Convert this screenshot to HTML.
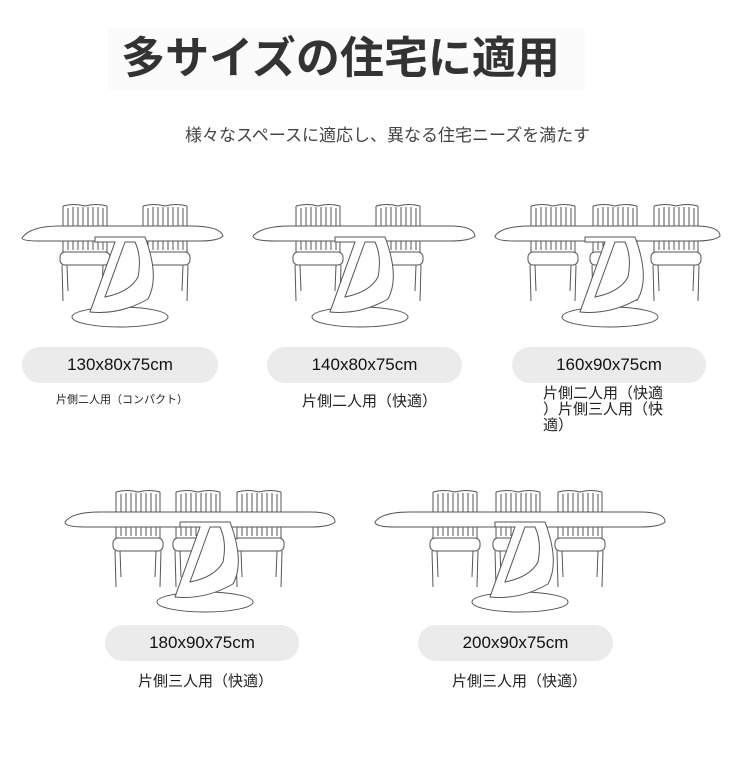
<!DOCTYPE html>
<html><head><meta charset="utf-8"><style>
body{margin:0;width:750px;height:767px;background:#fff;position:relative;font-family:"Liberation Sans","Noto Sans CJK JP",sans-serif;overflow:hidden}
.t{position:absolute;color:#222}
.pill{position:absolute;height:36px;border-radius:18px;background:#ebebeb;font-size:17px;color:#111;text-align:center;line-height:36px}
svg{position:absolute;left:0;top:0}
</style></head><body>
<div class="t" style="left:108px;top:28px;width:477px;height:62px;font-size:44px;font-weight:bold;color:#333;line-height:62px;text-align:center;background:#fbfbfb;box-sizing:border-box;padding-right:12px">多サイズの住宅に適用</div>
<div class="t" style="left:185px;top:121px;font-size:17px;color:#444;white-space:nowrap">様々なスペースに適応し、異なる住宅ニーズを満たす</div>
<svg width="750" height="767" fill="none" stroke="#555" stroke-width="1">
<defs>
<g id="ch">
<path d="M-22,0 L-22,46 M22,0 L22,46 M-22,0 Q-11,-3 0,0 Q11,-3 22,0"/>
<path d="M-17,2V44 M-12,1V44 M-7,1V44 M-2,1V44 M3,1V44 M8,1V44 M13,1V44 M18,2V44"/>
<rect x="-25" y="46" width="50" height="13" rx="5"/>
<path d="M-23,59 L-22,95 M23,59 L22,95 M-18,59 L-17,85 M18,59 L17,85"/>
</g>
<g id="base">
<ellipse cx="0" cy="80" rx="48" ry="10" fill="#fff"/>
<path d="M-25,0 L-25,5 L-5,5 L-30,75 Q0,78 28,62 Q40,40 25,0 Z" fill="#fff"/>
<path d="M5,5 L-15,60 Q10,55 18,40 Q22,20 15,5 Z" fill="#fff"/>
</g>
</defs>
<use href="#ch" x="85" y="206"/><use href="#ch" x="165" y="206"/>
<path d="M22,238 Q30,226 60,226 L190,226 Q220,226 223,236 Q218,241 200,241 L40,241 Q22,241 22,238Z" fill="#fff"/>
<use href="#base" x="120" y="237"/>
<use href="#ch" x="318" y="206"/><use href="#ch" x="398" y="206"/>
<path d="M253,236 Q262,226 290,226 L450,226 Q474,226 475,236 Q470,241 450,241 L275,241 Q253,241 253,236Z" fill="#fff"/>
<use href="#base" x="360" y="237"/>
<use href="#ch" x="553" y="206"/><use href="#ch" x="615" y="206"/><use href="#ch" x="676" y="206"/>
<path d="M495,236 Q502,226 530,226 L695,226 Q720,226 720,236 Q715,241 695,241 L515,241 Q495,241 495,236Z" fill="#fff"/>
<use href="#base" x="610" y="237"/>
<use href="#ch" x="138" y="492"/><use href="#ch" x="198" y="492"/><use href="#ch" x="259" y="492"/>
<path d="M65,522 Q72,512 100,512 L310,512 Q335,512 335,522 Q330,527 310,527 L85,527 Q65,527 65,522Z" fill="#fff"/>
<use href="#base" x="205" y="522"/>
<use href="#ch" x="455" y="492"/><use href="#ch" x="518" y="492"/><use href="#ch" x="580" y="492"/>
<path d="M375,522 Q382,512 410,512 L640,512 Q665,512 665,522 Q660,527 640,527 L395,527 Q375,527 375,522Z" fill="#fff"/>
<use href="#base" x="520" y="522"/>
</svg>
<div class="pill" style="left:22px;top:347px;width:196px">130x80x75cm</div>
<div class="pill" style="left:267px;top:347px;width:195px">140x80x75cm</div>
<div class="pill" style="left:512px;top:347px;width:194px">160x90x75cm</div>
<div class="pill" style="left:105px;top:625px;width:194px">180x90x75cm</div>
<div class="pill" style="left:418px;top:625px;width:195px">200x90x75cm</div>
<div class="t" style="left:56px;top:391px;font-size:11px">片側二人用（コンパクト）</div>
<div class="t" style="left:302px;top:390px;font-size:15px">片側二人用（快適）</div>
<div class="t" style="left:543px;top:386px;width:124px;font-size:15px;line-height:16px;word-break:break-all;line-break:anywhere">片側二人用（快適）片側三人用（快適）</div>
<div class="t" style="left:138px;top:670px;font-size:15px">片側三人用（快適）</div>
<div class="t" style="left:452px;top:670px;font-size:15px">片側三人用（快適）</div>
</body></html>
